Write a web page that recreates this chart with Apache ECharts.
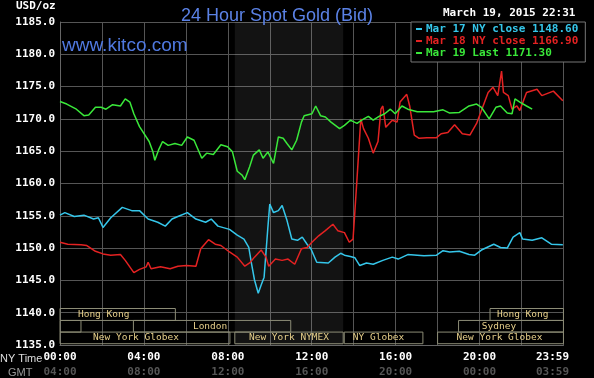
<!DOCTYPE html>
<html><head><meta charset="utf-8">
<script src="https://cdn.jsdelivr.net/npm/echarts@6/dist/echarts.min.js"></script>
<style>html,body{margin:0;padding:0;background:#000}#c{width:594px;height:378px}</style>
</head><body><div id="c"></div>
<script>
// ---- data ----
const seriesNames = ['Mar 17 NY close', 'Mar 18 NY close', 'Mar 19 Last'];
const closeValues = ['1148.60', '1166.90', '1171.30'];
const nyTimeLabels = ['00:00','04:00','08:00','12:00','16:00','20:00','23:59'];
const gmtLabels = ['04:00','08:00','12:00','16:00','20:00','00:00','03:59'];
const mar17 = [[0,1155.1],[0.23,1155.5],[0.68,1154.9],[1.14,1155.1],[1.6,1154.5],[1.83,1154.7],[2.05,1153.2],[2.42,1154.7],[2.97,1156.3],[3.42,1155.8],[3.79,1155.8],[4.2,1154.5],[4.66,1154.0],[5.02,1153.4],[5.34,1154.5],[5.62,1154.9],[6.07,1155.5],[6.48,1154.5],[6.94,1154.0],[7.21,1154.5],[7.53,1153.4],[8.08,1152.9],[8.45,1152.0],[8.77,1151.4],[9.0,1150.1],[9.13,1147.6],[9.27,1145.1],[9.45,1143.0],[9.59,1144.3],[9.73,1145.5],[9.91,1153.2],[10.0,1156.8],[10.18,1155.5],[10.41,1155.8],[10.59,1156.6],[10.82,1154.3],[11.05,1151.4],[11.32,1151.2],[11.55,1151.7],[11.78,1150.6],[11.96,1149.9],[12.24,1147.8],[12.79,1147.7],[13.11,1148.6],[13.38,1149.2],[13.56,1148.9],[13.84,1148.7],[14.06,1148.5],[14.29,1147.3],[14.61,1147.7],[14.93,1147.5],[15.39,1148.1],[15.84,1148.6],[16.12,1148.3],[16.58,1149.0],[17.03,1148.9],[17.35,1148.8],[17.95,1148.9],[18.26,1149.6],[18.58,1149.4],[19.04,1149.5],[19.5,1149.0],[19.77,1148.9],[20.09,1149.7],[20.68,1150.6],[21.0,1150.1],[21.32,1150.0],[21.6,1151.7],[21.92,1152.4],[22.05,1151.4],[22.51,1151.2],[22.97,1151.6],[23.42,1150.6],[23.97,1150.5]];
const mar18 = [[0,1150.9],[0.37,1150.6],[1.0,1150.5],[1.28,1150.4],[1.69,1149.5],[2.05,1149.1],[2.42,1148.9],[2.88,1149.0],[3.11,1148.1],[3.52,1146.2],[3.79,1146.7],[4.11,1147.1],[4.2,1147.8],[4.34,1146.8],[4.79,1147.1],[5.25,1146.8],[5.62,1147.2],[6.03,1147.3],[6.48,1147.2],[6.71,1149.9],[7.08,1151.3],[7.4,1150.6],[7.67,1150.4],[8.08,1149.4],[8.45,1148.6],[8.81,1147.2],[9.04,1147.7],[9.27,1148.6],[9.59,1149.7],[9.82,1148.6],[9.95,1147.2],[10.27,1148.3],[10.59,1148.1],[10.87,1148.3],[11.19,1147.5],[11.51,1149.9],[11.78,1150.1],[12.01,1150.9],[12.33,1151.9],[12.65,1152.7],[13.01,1153.7],[13.24,1152.7],[13.56,1152.4],[13.79,1150.9],[13.97,1151.4],[14.06,1155.8],[14.16,1160.8],[14.34,1170.0],[14.47,1168.5],[14.7,1167.0],[14.93,1164.7],[15.16,1166.5],[15.3,1171.5],[15.39,1172.0],[15.53,1168.7],[15.84,1169.8],[16.07,1169.5],[16.21,1172.6],[16.53,1173.8],[16.67,1172.0],[16.89,1167.5],[17.12,1167.0],[17.49,1167.1],[17.95,1167.1],[18.17,1167.7],[18.49,1167.9],[18.81,1169.1],[19.18,1167.7],[19.54,1167.5],[19.86,1169.3],[20.09,1171.3],[20.41,1174.1],[20.64,1174.9],[20.87,1173.6],[21.05,1177.4],[21.14,1174.1],[21.37,1173.6],[21.55,1171.5],[21.78,1172.0],[21.92,1171.3],[22.24,1174.1],[22.74,1174.6],[22.97,1173.6],[23.52,1174.3],[23.97,1172.8]];
const mar19 = [[0,1172.7],[0.32,1172.3],[0.78,1171.5],[1.14,1170.5],[1.37,1170.6],[1.69,1171.8],[1.96,1171.8],[2.19,1171.5],[2.51,1172.2],[2.88,1172.0],[3.11,1173.1],[3.33,1172.6],[3.52,1170.8],[3.79,1168.8],[4.25,1166.5],[4.43,1164.9],[4.52,1163.6],[4.7,1165.2],[4.89,1166.5],[5.16,1165.9],[5.48,1166.2],[5.8,1165.9],[6.07,1167.2],[6.39,1166.7],[6.76,1163.9],[6.99,1164.7],[7.31,1164.5],[7.67,1166.0],[7.99,1165.7],[8.22,1164.9],[8.45,1161.9],[8.68,1161.3],[8.81,1160.6],[9.04,1162.6],[9.22,1164.4],[9.5,1165.2],[9.68,1163.9],[9.91,1164.9],[10.18,1163.1],[10.41,1167.2],[10.64,1167.0],[10.82,1166.2],[11.05,1165.2],[11.28,1166.7],[11.51,1169.5],[11.64,1170.5],[12.01,1170.8],[12.19,1172.0],[12.42,1170.5],[12.65,1170.3],[12.92,1169.5],[13.33,1168.5],[13.56,1169.0],[13.84,1169.8],[14.16,1169.3],[14.38,1169.8],[14.7,1170.4],[14.93,1169.8],[15.21,1170.4],[15.48,1170.8],[15.75,1171.5],[15.98,1170.8],[16.3,1172.0],[16.58,1171.5],[17.03,1171.1],[17.81,1171.1],[18.26,1171.4],[18.58,1170.9],[19.04,1171.0],[19.5,1172.0],[19.86,1172.3],[20.09,1171.8],[20.46,1170.0],[20.78,1171.8],[21.0,1172.0],[21.32,1170.9],[21.55,1170.8],[21.69,1173.1],[21.92,1172.6],[22.24,1172.0],[22.51,1171.5]];
// trading sessions: [label, row, startHour, endHour]
const sessions = [
  ['Hong Kong', 0, 0, 5.5], ['Hong Kong', 0, 20.5, 24],
  ['', 1, 0, 1], ['London', 1, 3.5, 11], ['Sydney', 1, 19, 24],
  ['New York Globex', 2, 0, 8.1], ['New York NYMEX', 2, 8.333, 13.5],
  ['NY Globex', 2, 13.55, 17.3], ['New York Globex', 2, 18, 24]
];
const sessionRowBounds = [[1140.65, 1138.8], [1138.8, 1137.0], [1137.0, 1135.2]];
const nymexHours = [8.333, 13.5];

// ---- rendering ----
const colors = ['#35c6ea', '#e42222', '#3ae83a'];
const mono = 'DejaVu Sans Mono';
const labelShift = [-14, -4, 0, -2, -12, -9, 0, -5, -1];
const chart = echarts.init(document.getElementById('c'), null, {renderer: 'canvas'});
const sessionAreas = sessions.map((s, i) => [
  {xAxis: s[2], yAxis: sessionRowBounds[s[1]][0], name: s[0], label: {offset: [labelShift[i], 0]}},
  {xAxis: s[3], yAxis: sessionRowBounds[s[1]][1]}
]);
const lineSeries = [mar17, mar18, mar19].map((d, i) => ({
  name: seriesNames[i], type: 'line', data: d, showSymbol: false, symbol: 'none',
  lineStyle: {width: 1.5, color: colors[i]}, itemStyle: {color: colors[i]},
  z: 5 + i, animation: false
}));
chart.setOption({
  backgroundColor: '#000',
  animation: false,
  title: {text: '24 Hour Spot Gold (Bid)', left: 176, top: 2,
    textStyle: {color: '#5b82e6', fontFamily: 'Liberation Sans', fontSize: 18, fontWeight: 'normal'}},
  grid: {left: 60, right: 8, top: 22, bottom: 29},
  legend: {
    orient: 'vertical', left: 411, top: 22, z: 20,
    backgroundColor: '#000', borderColor: '#777', borderWidth: 1, borderRadius: 0,
    padding: [1, 7, 3, 5], itemGap: 0, itemWidth: 6, itemHeight: 2, icon: 'rect',
    selectedMode: false,
    data: seriesNames.map((n, i) => ({name: n, textStyle: {color: colors[i]}})),
    formatter: n => n + ' ' + closeValues[seriesNames.indexOf(n)],
    textStyle: {fontFamily: mono, fontSize: 11, fontWeight: 'bold', lineHeight: 12, padding: [0, 0, 0, -1]}
  },
  xAxis: {
    type: 'value', min: 0, max: 24, interval: 2,
    axisLine: {show: true, lineStyle: {color: '#666'}}, axisTick: {show: false},
    splitLine: {show: true, lineStyle: {color: '#555', width: 1}},
    axisLabel: {
      margin: 5,
      formatter: v => {
        if (v % 4 !== 0) return '';
        const k = v / 4;
        if (v === 24) return '{c|' + nyTimeLabels[k] + '}\n{d|' + gmtLabels[k] + '}';
        return '{a|' + nyTimeLabels[k] + '}\n{b|' + gmtLabels[k] + '}';
      },
      rich: {
        a: {color: '#fff', fontFamily: mono, fontSize: 11, fontWeight: 'bold', lineHeight: 15},
        b: {color: '#555', fontFamily: mono, fontSize: 11, fontWeight: 'bold', lineHeight: 15},
        c: {color: '#fff', fontFamily: mono, fontSize: 11, fontWeight: 'bold', lineHeight: 15, padding: [0, 22, 0, 0]},
        d: {color: '#555', fontFamily: mono, fontSize: 11, fontWeight: 'bold', lineHeight: 15, padding: [0, 22, 0, 0]}
      }
    }
  },
  yAxis: {
    type: 'value', min: 1135, max: 1185, interval: 5,
    axisLine: {show: true, lineStyle: {color: '#666'}}, axisTick: {show: false},
    splitLine: {show: true, lineStyle: {color: '#555', width: 1}},
    axisLabel: {margin: 5, color: '#fff', fontFamily: mono, fontSize: 11, fontWeight: 'bold',
      formatter: v => v.toFixed(1)}
  },
  graphic: [
    {type: 'text', left: 16, top: 1, style: {text: 'USD/oz', fill: '#fff', font: 'bold 11px "DejaVu Sans Mono"'}},
    {type: 'text', left: 443, top: 8, style: {text: 'March 19, 2015 22:31', fill: '#fff', font: 'bold 11px "DejaVu Sans Mono"'}},
    {type: 'text', left: 62, top: 36, z: 10, style: {text: 'www.kitco.com', fill: '#5079e0', font: '19px "Liberation Sans"'}},
    {type: 'text', left: 0, top: 353, style: {text: 'NY Time', fill: '#ddd', font: '11px "Liberation Sans"'}},
    {type: 'text', left: 8, top: 367, style: {text: 'GMT', fill: '#999', font: '11px "Liberation Sans"'}}
  ],
  series: [
    {
      type: 'line', data: [], silent: true, z: 1,
      markArea: {
        silent: true,
        itemStyle: {color: 'rgba(255,255,255,0.075)'},
        data: [[{xAxis: nymexHours[0], yAxis: 1185}, {xAxis: nymexHours[1], yAxis: 1135}]]
      }
    },
    {
      type: 'line', data: [], silent: true, z: 2,
      markArea: {
        silent: true,
        itemStyle: {color: 'rgba(0,0,0,0)', borderColor: '#8c8c76', borderWidth: 1},
        label: {show: true, position: 'inside', color: '#e6cf8a', fontFamily: mono, fontSize: 9.5},
        data: sessionAreas
      }
    }
  ].concat(lineSeries)
});
</script></body></html>
